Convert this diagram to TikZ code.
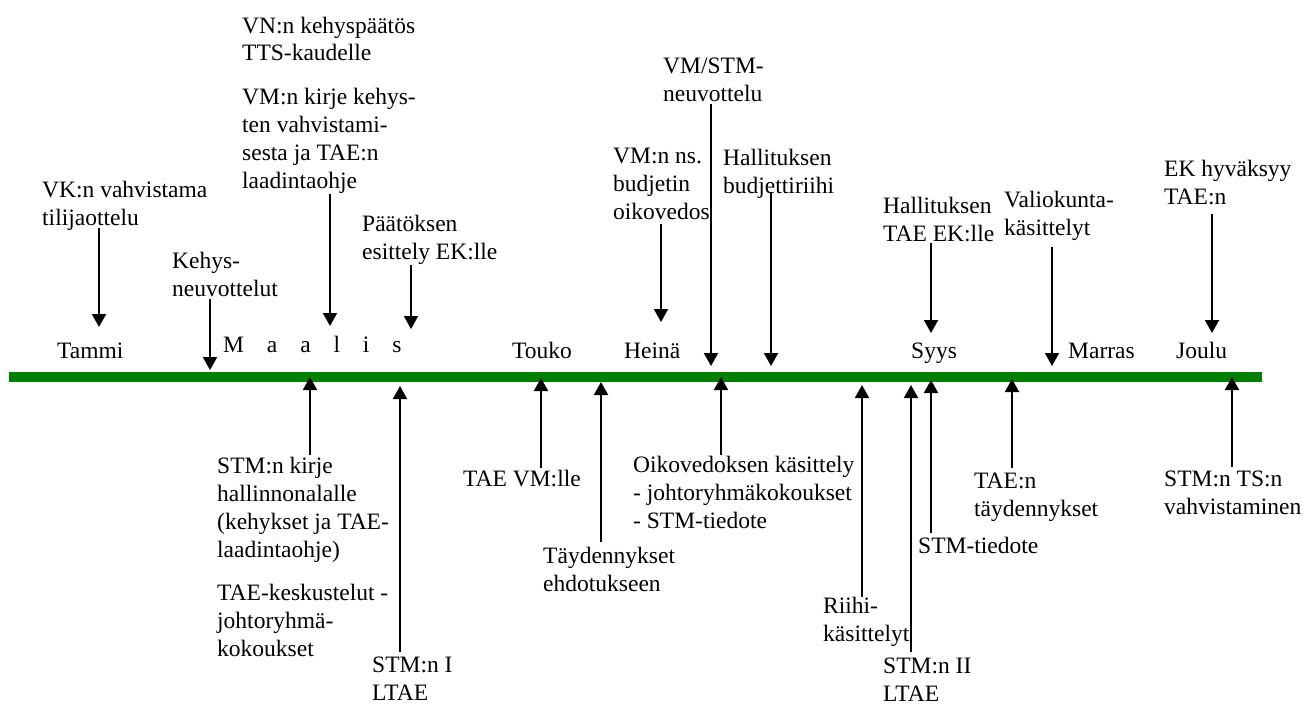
\documentclass[tikz,border=0pt]{standalone}
\usepackage{fontspec}
\setmainfont{Liberation Serif}
\usetikzlibrary{arrows.meta}
\newcommand{\lbl}[1]{\begin{tabular}[t]{@{}l@{}}#1\end{tabular}}
\tikzset{
  txt/.style={anchor=base west, inner sep=0pt, font=\fontsize{23.5}{28}\selectfont},
  arr/.style={line width=2pt, -{Triangle[width=14pt,length=13pt]}},
}
\definecolor{linegreen}{RGB}{0,128,0}
\begin{document}
\begin{tikzpicture}[x=1pt,y=-1pt]
\useasboundingbox (0,0) rectangle (1303,704);
% timeline
\fill[linegreen] (9,372) rectangle (1262,382);
\coordinate (tl) at (9,377);
% months
\node[txt] (m1) at (57,358) {Tammi};
\node[txt] (m3) at (223,352) {M\hspace{17pt} a\hspace{17pt} a\hspace{17pt} l\hspace{17pt} i\hspace{17pt} s};
\node[txt] (m5) at (512,358) {Touko};
\node[txt] (m7) at (624,358) {Heinä};
\node[txt] (m9) at (911,358) {Syys};
\node[txt] (m11) at (1068,358) {Marras};
\node[txt] (m12) at (1176,358) {Joulu};
% top labels
\node[txt] (t1) at (42,197) {\lbl{VK:n vahvistama\\tilijaottelu}};
\node[txt] (t2) at (172,268) {\lbl{Kehys-\\neuvottelut}};
\node[txt] (t3) at (242,33) {\lbl{VN:n kehyspäätös\\TTS-kaudelle}};
\node[txt] (t4) at (242,104) {\lbl{VM:n kirje kehys-\\ten vahvistami-\\sesta ja TAE:n\\laadintaohje}};
\node[txt] (t5) at (362,231) {\lbl{Päätöksen\\esittely EK:lle}};
\node[txt] (t6) at (613,163) {\lbl{VM:n ns.\\budjetin\\oikovedos}};
\node[txt] (t7) at (663,73) {\lbl{VM/STM-\\neuvottelu}};
\node[txt] (t8) at (723,165) {\lbl{Hallituksen\\budjettiriihi}};
\node[txt] (t9) at (883,213) {\lbl{Hallituksen\\TAE EK:lle}};
\node[txt] (t10) at (1004,207) {\lbl{Valiokunta-\\käsittelyt}};
\node[txt] (t11) at (1164,176) {\lbl{EK hyväksyy\\TAE:n}};
% bottom labels
\node[txt] (b1) at (217,473) {\lbl{STM:n kirje\\hallinnonalalle\\(kehykset ja TAE-\\laadintaohje)}};
\node[txt] (b1b) at (217,600) {\lbl{TAE-keskustelut -\\johtoryhmä-\\kokoukset}};
\node[txt] (b2) at (372,672) {\lbl{STM:n I\\LTAE}};
\node[txt] (b3) at (463,486) {TAE VM:lle};
\node[txt] (b4) at (543,563) {\lbl{Täydennykset\\ehdotukseen}};
\node[txt] (b5) at (633,472) {\lbl{Oikovedoksen käsittely\\- johtoryhmäkokoukset\\- STM-tiedote}};
\node[txt] (b6) at (823,613) {\lbl{Riihi-\\käsittelyt}};
\node[txt] (b7) at (883,673) {\lbl{STM:n II\\LTAE}};
\node[txt] (b8) at (918,553) {STM-tiedote};
\node[txt] (b9) at (974,488) {\lbl{TAE:n\\täydennykset}};
\node[txt] (b10) at (1164,486) {\lbl{STM:n TS:n\\vahvistaminen}};
% down arrows: start / tip coordinates
\foreach \n/\x/\s/\e in {a1/99/228/327, a2/210/299/370, a3/330/194/326, a4/411/265/329,
  a5/661/224/322, a6/711/104/366, a7/771/193/366, a8/931/243/333, a9/1052/247/366, a10/1212/214/333}{
  \coordinate (\n s) at (\x,\s);
  \coordinate (\n e) at (\x,\e);
  \draw[arr] (\n s) -- (\n e);
}
% up arrows
\foreach \n/\x/\s/\e in {u1/310/455/377, u2/400/652/386, u3/541/468/378, u4/601/542/382,
  u5/721/455/377, u6/862/597/385, u7/911/652/385, u8/931/533/380, u9/1012/468/379, u10/1232/467/377}{
  \coordinate (\n s) at (\x,\s);
  \coordinate (\n e) at (\x,\e);
  \draw[arr] (\n s) -- (\n e);
}
\end{tikzpicture}
\end{document}
